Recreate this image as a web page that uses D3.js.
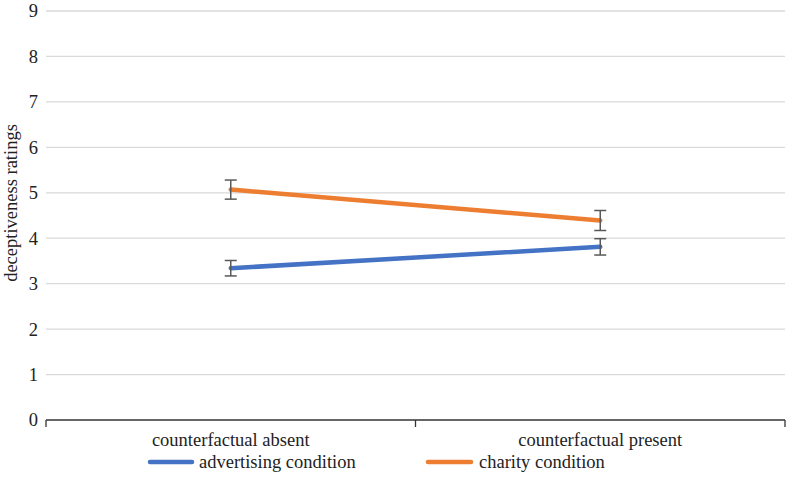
<!DOCTYPE html>
<html><head><meta charset="utf-8">
<script src="https://cdn.jsdelivr.net/npm/d3@7"></script>
<style>body{margin:0;background:#fff}svg{display:block}svg text{font-family:"Liberation Serif","DejaVu Serif",serif}</style>
</head><body><svg id="c" width="791" height="501" font-family="Liberation Serif, serif"></svg>
<script>
const categories = ["counterfactual absent", "counterfactual present"];
const advertising = [3.34, 3.81];
const advertisingErr = [0.17, 0.18];
const charity = [5.07, 4.39];
const charityErr = [0.21, 0.22];
const yTicks = [0,1,2,3,4,5,6,7,8,9];
const seriesNames = ["advertising condition", "charity condition"];
const colors = ["#4472C4", "#ED7D31"];

(function(){
const svg = d3.select("#c");
const pL = 46, pR = 785, pT = 11, pB = 420;
const fs = 18.5;
const x = d3.scaleBand().domain(categories).range([pL, pR]);
const y = d3.scaleLinear().domain([0, 9]).range([pB, pT]);

// gridlines
svg.append("g").selectAll("line").data(yTicks.filter(d=>d>0)).join("line")
  .attr("x1", pL).attr("x2", pR).attr("y1", d=>y(d)).attr("y2", d=>y(d))
  .attr("stroke", "#d9d9d9").attr("stroke-width", 1.3);

// y tick labels
svg.append("g").selectAll("text").data(yTicks).join("text")
  .attr("x", 38).attr("y", d=>y(d)).attr("dy", "0.35em").attr("text-anchor", "end")
  .attr("font-size", fs).attr("fill", "#222").text(d=>d);

// x axis
const xa = svg.append("g");
xa.append("line").attr("x1", pL).attr("x2", pR).attr("y1", pB).attr("y2", pB)
  .attr("stroke", "#333").attr("stroke-width", 1.3);
const bounds = [pL, ...categories.slice(1).map(c=>x(c)), pR];
xa.selectAll("line.t").data(bounds).join("line").attr("class","t")
  .attr("x1", d=>d).attr("x2", d=>d).attr("y1", pB).attr("y2", pB+7)
  .attr("stroke", "#333").attr("stroke-width", 1.3);
xa.selectAll("text").data(categories).join("text")
  .attr("x", d=>x(d)+x.bandwidth()/2).attr("y", 446).attr("text-anchor","middle")
  .attr("font-size", fs).attr("fill","#222").text(d=>d);

// y title
svg.append("text").attr("transform", `translate(17,203) rotate(-90)`)
  .attr("text-anchor","middle").attr("font-size",fs).attr("fill","#222").text("deceptiveness ratings");

const cx = c => x(c) + x.bandwidth()/2;
const series = [{v: advertising, e: advertisingErr, col: colors[0]}, {v: charity, e: charityErr, col: colors[1]}];
const line = d3.line().x((d,i)=>cx(categories[i])).y(d=>y(d));
series.forEach(s=>{
  svg.append("path").attr("d", line(s.v)).attr("fill","none").attr("stroke", s.col)
    .attr("stroke-width", 4.5).attr("stroke-linecap","round");
});
series.forEach(s=>{
  const g = svg.append("g").attr("stroke","#595959").attr("stroke-width",1.5);
  s.v.forEach((v,i)=>{
    const px = cx(categories[i]);
    g.append("line").attr("x1",px).attr("x2",px).attr("y1",y(v+s.e[i])).attr("y2",y(v-s.e[i]));
    [v+s.e[i], v-s.e[i]].forEach(t=>g.append("line").attr("x1",px-6).attr("x2",px+6).attr("y1",y(t)).attr("y2",y(t)));
  });
});

// legend
const leg = [{x1:150,x2:192,tx:199},{x1:428,x2:471,tx:479}];
seriesNames.forEach((n,i)=>{
  svg.append("line").attr("x1",leg[i].x1).attr("x2",leg[i].x2).attr("y1",462).attr("y2",462)
    .attr("stroke",colors[i]).attr("stroke-width",4.5).attr("stroke-linecap","round");
  svg.append("text").attr("x",leg[i].tx).attr("y",462).attr("dy","0.35em")
    .attr("font-size",fs).attr("fill","#222").text(n);
});
})();
</script></body></html>
